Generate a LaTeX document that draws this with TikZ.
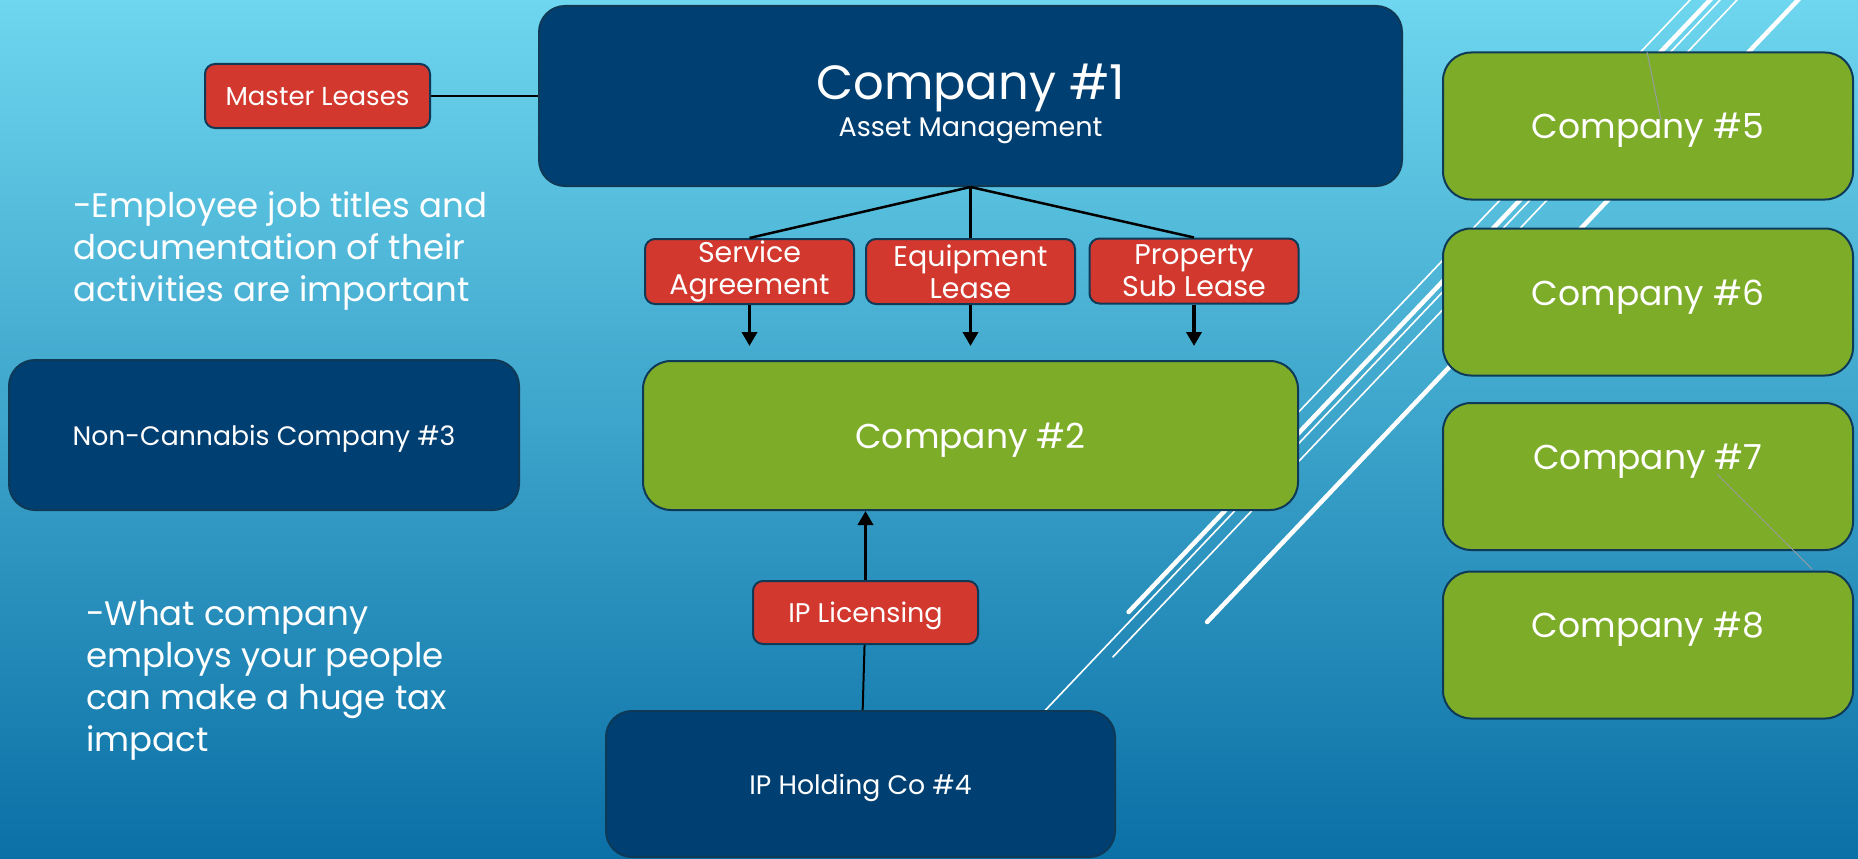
\documentclass[tikz,border=0pt]{standalone}
\usepackage{fontspec}
\setmainfont{Poppins}
\usetikzlibrary{arrows.meta}

\definecolor{bgtop}{RGB}{110,214,238}
\definecolor{bgbot}{RGB}{10,112,166}
\definecolor{navy}{RGB}{0,63,114}
\definecolor{edge}{RGB}{14,58,88}
\definecolor{leaf}{RGB}{125,172,41}
\definecolor{brick}{RGB}{210,56,46}
\definecolor{hair}{RGB}{150,158,158}

\newcommand{\sizeto}[2]{\fontsize{#1pt}{#2pt}\selectfont}

\tikzset{
  box/.style={draw=edge, line width=2pt, text=white, inner sep=0pt, align=center},
  navybox/.style={box, fill=navy, rounded corners=26pt},
  greenbox/.style={box, fill=leaf, rounded corners=28pt, minimum width=410, minimum height=147, text depth=0pt, font=\sizeto{34.5}{40}},
  redbox/.style={box, fill=brick, rounded corners=10pt, minimum width=209, minimum height=65, font=\sizeto{28.5}{32}},
  link/.style={line width=2.5pt},
  flow/.style={line width=3.5pt, -{Triangle[length=14pt,width=15pt]}},
  slash/.style={white, line width=1.6pt, line cap=round},
  heavyslash/.style={white, line width=4.5pt, line cap=round},
  note/.style={anchor=north west, align=left, text=white, inner sep=0pt, font=\sizeto{34}{42}},
}

\begin{document}
\begin{tikzpicture}[x=1pt,y=-1pt]
    \shade[top color=bgtop, bottom color=bgbot] (0,0) rectangle (1858,859);
    \useasboundingbox (0,0) rectangle (1858,859);

    % white slashes behind the boxes
    \foreach \c/\e/\s in {1690/480/slash, 1710/612/heavyslash, 1720/740/slash, 1737/657/slash, 1798/622/heavyslash}
        \draw[\s] ({\c+4.75},-5) -- ({\c-0.95*\e},\e);

    \node[navybox, minimum width=863, minimum height=180] (c1) at (970.5,96)
        {\sizeto{48}{56}\rule{0pt}{52pt}Company \#1\\[5pt]\sizeto{27}{30}Asset Management};
    \node[redbox, minimum width=225, minimum height=64, text depth=0pt, font=\sizeto{26}{30}] (master) at (317.5,96) {Master Leases};

    \node[redbox] (svc) at (749.5,271.5) {Service\\Agreement};
    \node[redbox] (equip) at (970.5,271.5) {Equipment\\Lease};
    \node[redbox] (prop) at (1194,271) {Property\\Sub Lease};

    \node[greenbox, minimum width=655, minimum height=149] (c2) at (970.5,435.5) {Company \#2};
    \node[navybox, minimum width=510, minimum height=150, text depth=0pt, font=\sizeto{26.7}{30}] (c3) at (264,435) {Non-Cannabis Company \#3};
    \node[redbox, minimum width=225, minimum height=63, text depth=0pt, font=\sizeto{27}{30}] (lic) at (865.5,612.5) {IP Licensing};
    \node[navybox, minimum width=509, minimum height=146, text depth=0pt, font=\sizeto{26.7}{30}] (c4) at (860.5,784) {IP Holding Co \#4};

    \node[greenbox] (c5) at (1648,126) {Company \#5};
    \node[greenbox, text depth=19pt] (c6) at (1648,302) {Company \#6};
    \node[greenbox, text depth=40pt] (c7) at (1648,476.5) {Company \#7};
    \node[greenbox, text depth=40pt] (c8) at (1648,645) {Company \#8};

    \node[note] (note1) at (73,191) {-Employee job titles and\\documentation of their\\activities are important};
    \node[note] (note2) at (86,600) {-What company\\employs your people\\can make a huge tax\\impact};

    % connectors
    \coordinate (fan) at (c1.south);
    \draw[link, line width=2pt] (master) -- (c1);
    \foreach \n in {svc, equip, prop} {
        \draw[link] (fan) -- (\n.north);
        \draw[flow, shorten >=14pt] (\n.south) -- (\n.south |- c2.north);
    }
    \draw[flow] (lic) -- (lic |- c2.south);
    \draw[link, line width=2pt] (lic) -- (c4);

    % stray grey hairlines
    \coordinate (h1) at (1647,52);
    \coordinate (h2) at (1661,120);
    \coordinate (h3) at (1717,474);
    \coordinate (h4) at (1812,569);
    \draw[hair, line width=1pt] (h1) -- (h2);
    \draw[hair, line width=1pt] (h3) -- (h4);
\end{tikzpicture}
\end{document}
